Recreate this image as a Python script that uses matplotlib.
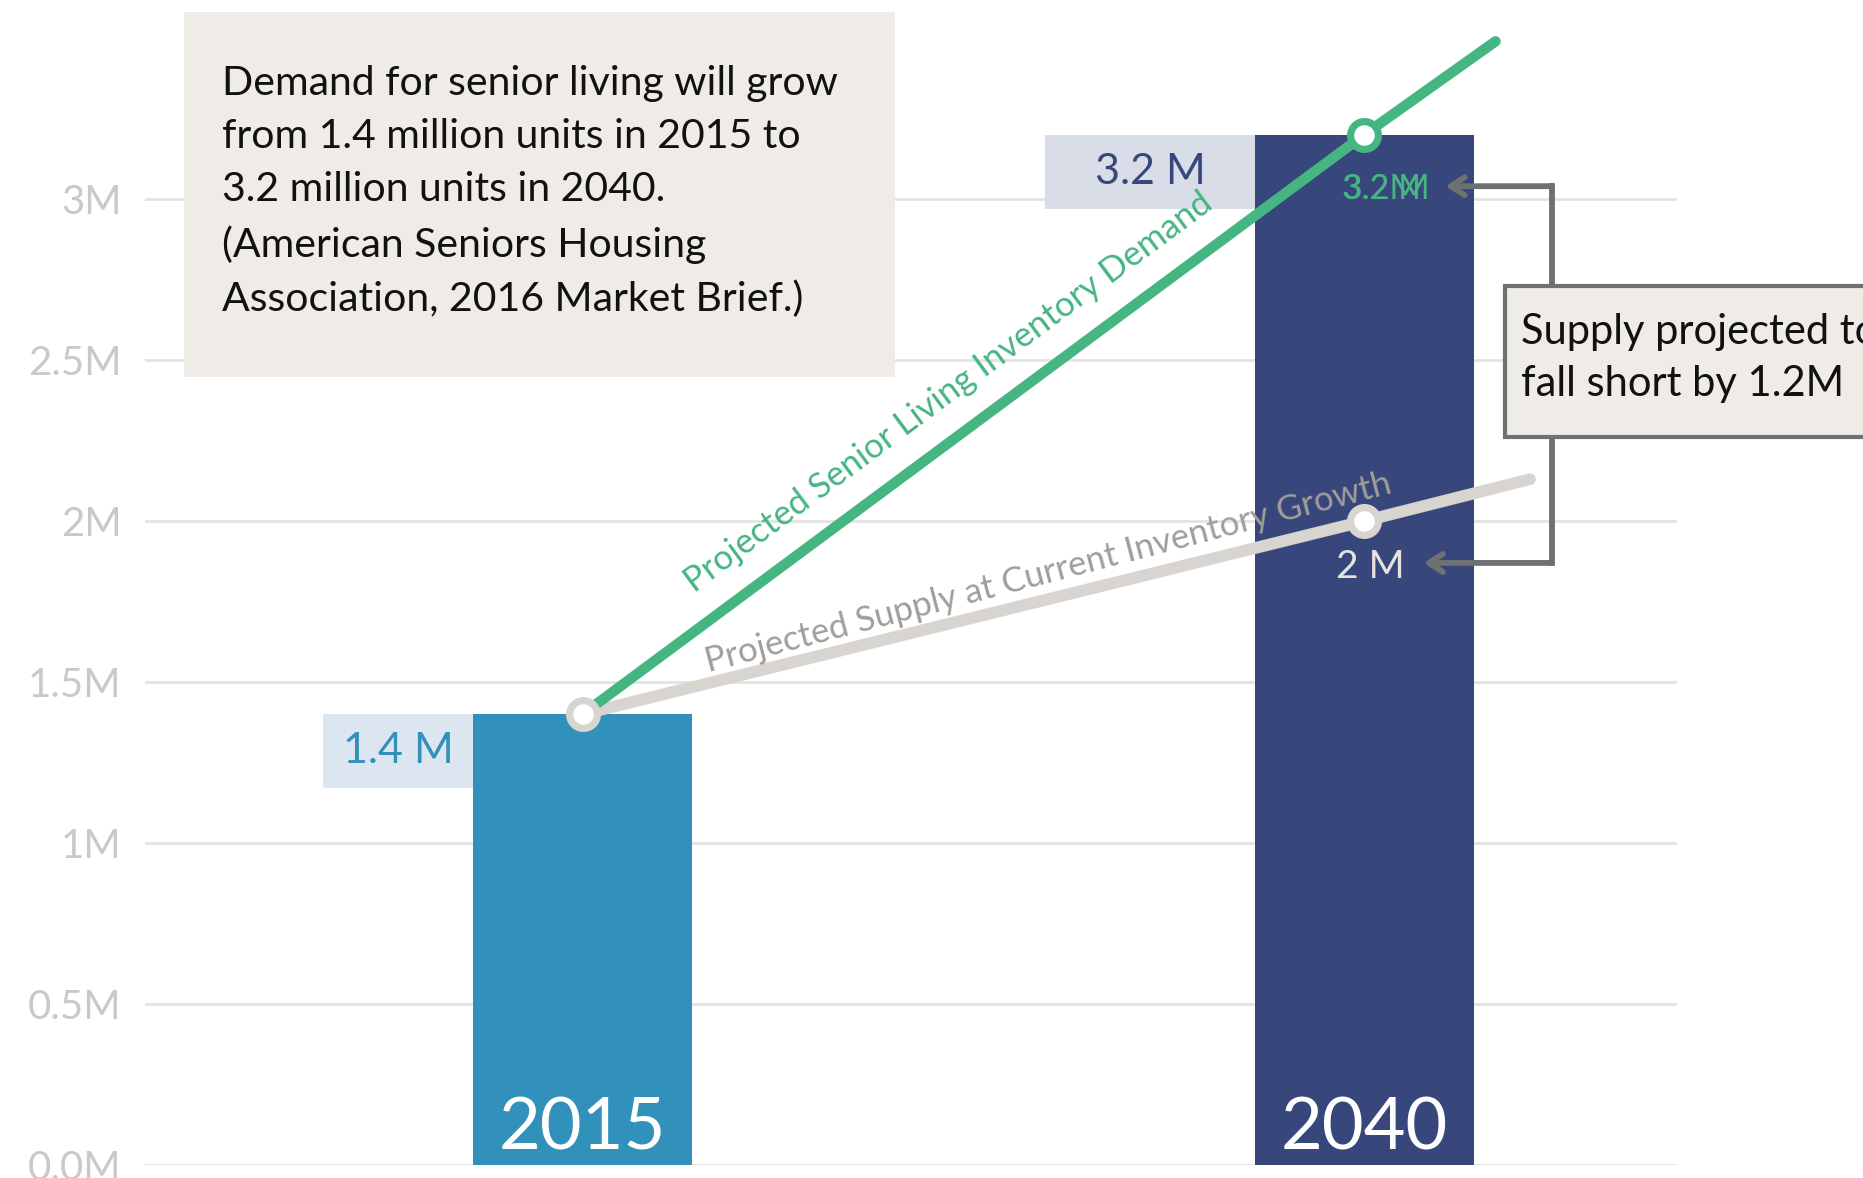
import numpy as np
import matplotlib.pyplot as plt
from matplotlib.patches import Rectangle

# data (million units)
years = [2015, 2040]
units = [1.4, 3.2]
value_labels = ['1.4 M', '3.2 M']
year_labels = ['2015', '2040']

demand_years = [2015, 2040, 2044.2]
demand = [1.4, 3.2, 3.49]
supply_years = [2015, 2040, 2045.3]
supply = [1.4, 2.0, 2.13]

yticks = [0, 0.5, 1, 1.5, 2, 2.5, 3]
ytick_labels = ['0.0M', '0.5M', '1M', '1.5M', '2M', '2.5M', '3M']

note = ("Demand for senior living will grow\n"
        "from 1.4 million units in 2015 to\n"
        "3.2 million units in 2040.\n"
        "(American Seniors Housing\n"
        "Association, 2016 Market Brief.)")
gap_note = "Supply projected to\nfall short by 1.2M"

# colours
bar_colors = ['#3291ba', '#37477c']
label_box_colors = ['#dce6f0', '#d9dde8']
green = '#45b582'
supply_col = '#d8d4d0'
supply_txt = '#a19d99'
beige = '#efebe7'
bracket_col = '#6d7171'

plt.rcParams['font.family'] = ['Lato', 'DejaVu Sans']

fig = plt.figure(figsize=(18.63, 11.78), dpi=100)
ax = fig.add_axes([0.0778, 0.011, 0.8223, 0.984])
ax.set_xlim(2001, 2050)
ax.set_ylim(0, 3.6)

bar_w = 7
ax.bar(years, units, width=bar_w, color=bar_colors, zorder=2)

for s in ax.spines.values():
    s.set_visible(False)
ax.set_xticks([])
ax.set_yticks(yticks)
ax.set_yticklabels(ytick_labels, fontsize=29, color='#c9c9c9')
ax.tick_params(axis='y', length=0, pad=17)
ax.grid(axis='y', color='#e3e3e3', lw=2)
ax.set_axisbelow(True)

# year labels inside bars
for x, t in zip(years, year_labels):
    ax.text(x, 0.047, t, ha='center', va='baseline', color='white',
            fontsize=52, zorder=4)

# value label boxes left of bars
box_w = [4.8, 6.7]
box_h = 0.23
for x, v, t, c, w, tc in zip(years, units, value_labels, label_box_colors,
                             box_w, bar_colors):
    x0 = x - bar_w / 2 - w
    ax.add_patch(Rectangle((x0, v - box_h), w, box_h, color=c, zorder=1.5, lw=0))
    ax.text(x0 + w / 2, v - box_h / 2, t, ha='center', va='center',
            color=tc, fontsize=31, zorder=3)

# trend lines
ax.plot(supply_years, supply, color=supply_col, lw=8.5, solid_capstyle='round', zorder=3)
ax.plot(demand_years, demand, color=green, lw=7.5, solid_capstyle='round', zorder=4)
ax.plot(demand_years[1], demand[1], 'o', ms=20, mfc='white', mec=green, mew=5.2, zorder=5)
ax.plot(supply_years[:2], supply[:2], 'o', ms=20, mfc='white', mec=supply_col, mew=5.2, zorder=6)


def line_angle(xs, ys):
    p0 = ax.transData.transform((xs[0], ys[0]))
    p1 = ax.transData.transform((xs[1], ys[1]))
    return np.degrees(np.arctan2(p1[1] - p0[1], p1[0] - p0[0]))


ax.text(2026.7, 2.40, 'Projected Senior Living Inventory Demand',
        rotation=line_angle(demand_years, demand), rotation_mode='anchor',
        ha='center', va='center', color=green, fontsize=25, zorder=7)
ax.text(2029.9, 1.84, 'Projected Supply at Current Inventory Growth',
        rotation=line_angle(supply_years, supply) + 0.8, rotation_mode='anchor',
        ha='center', va='center', color=supply_txt, fontsize=25, zorder=7)

# top-left note
ax.add_patch(Rectangle((2002.25, 2.447), 22.75, 1.133, color=beige, zorder=1, lw=0,
                       clip_on=False))
ax.text(2003.47, 3.415, note, ha='left', va='top', fontsize=29.5,
        linespacing=1.53, color='#111111', zorder=2)

# labels inside 2040 bar
ax.text(2039.3, 3.03, '3.2M', ha='left', va='center', color=green,
        fontsize=24.5, zorder=6)
ax.text(2039.3, 3.03, '3.2 M', ha='left', va='center', color=green,
        fontsize=24.5, zorder=6)
ax.text(2041.3, 1.857, '2 M', ha='right', va='center', color='#e6e2de',
        fontsize=28, zorder=6)

# gap bracket
bx = 2046.0
y_hi, y_lo = 3.04, 1.87
ax.plot([bx, bx], [y_hi, y_lo], color=bracket_col, lw=4.2, zorder=5,
        solid_capstyle='projecting', clip_on=False)
arrow = dict(arrowstyle='->,head_length=1.0,head_width=0.65', lw=4.2,
             color=bracket_col, shrinkA=0, shrinkB=0)
ax.annotate('', xy=(2042.6, y_hi), xytext=(bx, y_hi), arrowprops=arrow, zorder=5)
ax.annotate('', xy=(2041.9, y_lo), xytext=(bx, y_lo), arrowprops=arrow, zorder=5)

ax.add_patch(Rectangle((2044.5, 2.26), 20, 0.47, fc=beige, ec=bracket_col,
                       lw=3, zorder=6, clip_on=False))
ax.text(2045.0, 2.505, gap_note, ha='left', va='center', fontsize=30,
        linespacing=1.45, color='#111111', zorder=7)

fig.savefig('out.png', dpi=100)
